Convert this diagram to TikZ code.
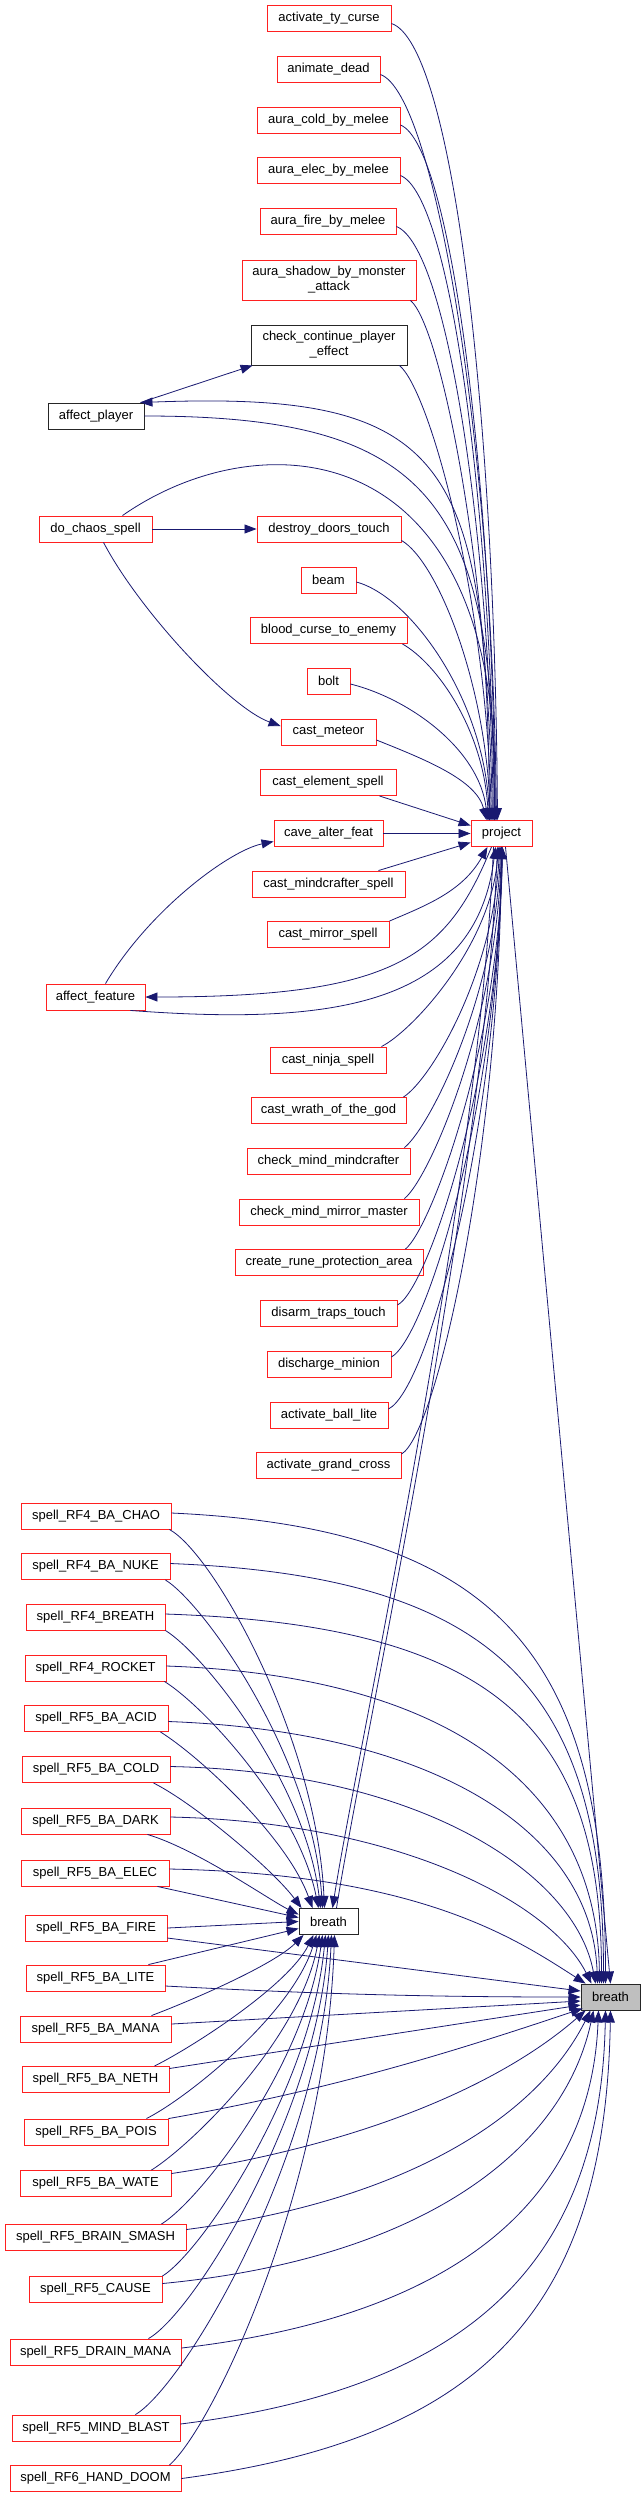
\documentclass[tikz,border=0pt]{standalone}
\usepackage{fontspec}
\setmainfont{Liberation Sans}
\usetikzlibrary{arrows.meta,calc}
\definecolor{edgec}{HTML}{191970}
\definecolor{boxred}{HTML}{FF2020}
\definecolor{hlgrey}{HTML}{BFBFBF}
\tikzset{
  fn/.style={draw=boxred, line width=0.9pt, fill=white, minimum height=26pt, inner sep=0pt,
             font=\fontsize{13}{15}\selectfont, align=center},
  fnb/.style={fn, draw=black!85},
  edg/.style={draw=edgec, line width=0.8pt, -{Triangle[length=12pt,width=9pt]}},
}
\newcommand\nd[6]{\node[#6, minimum width=#4pt] (#1) at (#2,#3) {#5};}
\begin{document}
\begin{tikzpicture}[x=1pt,y=-1pt]
\useasboundingbox (0,0) rectangle (641,2497);
% ---- nodes
\nd{aty}{329}{18.5}{124}{activate\_ty\_curse}{fn}
\nd{ad}{328.5}{69.5}{103}{animate\_dead}{fn}
\nd{acm}{328.5}{120}{143}{aura\_cold\_by\_melee}{fn}
\nd{aem}{328.5}{170.5}{143}{aura\_elec\_by\_melee}{fn}
\nd{afm}{328}{221.5}{136}{aura\_fire\_by\_melee}{fn}
\nd{asm}{329}{280}{174}{aura\_shadow\_by\_monster\\\_attack}{fn,minimum height=40pt}
\nd{ccpe}{329}{345}{156}{check\_continue\_player\\\_effect}{fnb,minimum height=40pt}
\nd{ap}{96}{416}{96}{affect\_player}{fnb}
\nd{dcs}{95.5}{529}{113}{do\_chaos\_spell}{fn}
\nd{ddt}{329}{529}{144}{destroy\_doors\_touch}{fn}
\nd{beam}{328.5}{580}{55}{beam}{fn}
\nd{bcte}{328.5}{630.5}{157}{blood\_curse\_to\_enemy}{fn}
\nd{bolt}{328.5}{681}{43}{bolt}{fn}
\nd{cm}{328.5}{732}{95}{cast\_meteor}{fn}
\nd{ces}{328}{782.5}{136}{cast\_element\_spell}{fn}
\nd{proj}{501.5}{833.5}{61}{project}{fn}
\nd{caf}{328.5}{833.5}{109}{cave\_alter\_feat}{fn}
\nd{cmcs}{328.5}{884}{153}{cast\_mindcrafter\_spell}{fn}
\nd{cmis}{328}{934.5}{122}{cast\_mirror\_spell}{fn}
\nd{af}{95.5}{997}{99}{affect\_feature}{fn}
\nd{cns}{328}{1060}{116}{cast\_ninja\_spell}{fn}
\nd{cwg}{328.5}{1110.5}{155}{cast\_wrath\_of\_the\_god}{fn}
\nd{cmm}{328.5}{1161}{163}{check\_mind\_mindcrafter}{fn}
\nd{cmmm}{329}{1212}{180}{check\_mind\_mirror\_master}{fn}
\nd{crpa}{329}{1262.5}{188}{create\_rune\_protection\_area}{fn}
\nd{dtt}{328.5}{1313}{137}{disarm\_traps\_touch}{fn}
\nd{dm}{329}{1364}{124}{discharge\_minion}{fn}
\nd{abl}{329}{1415}{118}{activate\_ball\_lite}{fn}
\nd{agc}{328.5}{1465.5}{145}{activate\_grand\_cross}{fn}
\nd{chao}{96}{1516}{150}{spell\_RF4\_BA\_CHAO}{fn}
\nd{nuke}{95.5}{1566.5}{149}{spell\_RF4\_BA\_NUKE}{fn}
\nd{rfb}{95.5}{1617}{139}{spell\_RF4\_BREATH}{fn}
\nd{rock}{95.5}{1668}{141}{spell\_RF4\_ROCKET}{fn}
\nd{acid}{96}{1718.5}{144}{spell\_RF5\_BA\_ACID}{fn}
\nd{cold}{96}{1769.5}{148}{spell\_RF5\_BA\_COLD}{fn}
\nd{dark}{95.5}{1821}{149}{spell\_RF5\_BA\_DARK}{fn}
\nd{elec}{95}{1873}{148}{spell\_RF5\_BA\_ELEC}{fn}
\nd{fire}{96}{1928}{142}{spell\_RF5\_BA\_FIRE}{fn}
\nd{lite}{95.5}{1978}{139}{spell\_RF5\_BA\_LITE}{fn}
\nd{mana}{95.5}{2029}{151}{spell\_RF5\_BA\_MANA}{fn}
\nd{neth}{95.5}{2079.5}{147}{spell\_RF5\_BA\_NETH}{fn}
\nd{pois}{96}{2132}{144}{spell\_RF5\_BA\_POIS}{fn}
\nd{wate}{95.5}{2183.5}{151}{spell\_RF5\_BA\_WATE}{fn}
\nd{brain}{95.5}{2237.5}{181}{spell\_RF5\_BRAIN\_SMASH}{fn}
\nd{cause}{95.5}{2289.5}{133}{spell\_RF5\_CAUSE}{fn}
\nd{drain}{95.5}{2352}{171}{spell\_RF5\_DRAIN\_MANA}{fn}
\nd{mind}{96}{2428}{168}{spell\_RF5\_MIND\_BLAST}{fn}
\nd{doom}{95.5}{2478.5}{171}{spell\_RF6\_HAND\_DOOM}{fn}
\nd{bm}{328.5}{1921.5}{59}{breath}{fnb}
\nd{br}{610.5}{1997}{59}{breath}{fnb,fill=hlgrey}
% ---- upper column -> project
\draw[edg] ($(aty.east)+(0,5)$) .. controls +(60,20) and +(-3,-420) .. ($(proj.north)+(-4,0)$);
\draw[edg] ($(ad.east)+(0,5)$) .. controls +(55,20) and +(-4,-373) .. ($(proj.north)+(-5,0)$);
\draw[edg] ($(acm.east)+(0,5)$) .. controls +(50,20) and +(-4,-348) .. ($(proj.north)+(-6,0)$);
\draw[edg] ($(aem.east)+(0,5)$) .. controls +(50,20) and +(-5,-322) .. ($(proj.north)+(-7,0)$);
\draw[edg] ($(afm.east)+(0,5)$) .. controls +(50,20) and +(-5,-297) .. ($(proj.north)+(-8,0)$);
\draw[edg] ($(asm.south east)+(-6,0)$) .. controls +(30,25) and +(-5,-260) .. ($(proj.north)+(-9,0)$);
\draw[edg] ($(ccpe.south east)+(-8,0)$) .. controls +(30,25) and +(-6,-228) .. ($(proj.north)+(-10,0)$);
\draw[edg] ($(ap.north east)+(-4,0)$) -- ($(ccpe.south west)+(2,0)$);
\draw[edg] ($(proj.north)+(-12,0)$) .. controls +(-2,-360) and +(310,-12) .. ($(ap.north east)+(-4,0)$);
\draw[edg] (ap.east) .. controls +(280,0) and +(0,-324) .. ($(proj.north)+(-7,0)$);
\draw[edg] ($(dcs.north)+(27,0)$) .. controls +(137,-96) and +(10,-390) .. ($(proj.north)+(-7,0)$);
\draw[edg] (dcs.east) -- (ddt.west);
\draw[edg] ($(dcs.south)+(8,0)$) .. controls +(37,70) and +(-50,-18) .. ($(cm.west)+(0,-6)$);
\draw[edg] ($(ddt.south east)+(0,-2)$) .. controls +(35,20) and +(-5,-140) .. ($(proj.north)+(-11,0)$);
\draw[edg] ($(beam.east)+(0,2)$) .. controls +(55,15) and +(-5,-120) .. ($(proj.north)+(-12,0)$);
\draw[edg] ($(bcte.south east)+(-5,0)$) .. controls +(35,20) and +(-5,-90) .. ($(proj.north)+(-13,0)$);
\draw[edg] ($(bolt.east)+(0,3)$) .. controls +(60,15) and +(-8,-70) .. ($(proj.north)+(-14,0)$);
\draw[edg] ($(cm.east)+(0,8)$) .. controls +(50,20) and +(-10,-40) .. ($(proj.north)+(-15,0)$);
\draw[edg] ($(ces.south east)+(-17,0)$) -- ($(proj.west)+(0,-8)$);
\draw[edg] (caf.east) -- (proj.west);
\draw[edg] ($(cmcs.north east)+(-27,0)$) -- ($(proj.west)+(0,9)$);
\draw[edg] (cmis.north east) .. controls +(35,-15) and +(-25,45) .. ($(proj.south)+(-14,0)$);
\draw[edg] ($(proj.south)+(-10,0)$) .. controls +(-45,110) and +(250,0) .. (af.east);
\draw[edg] ($(af.south east)+(-15,0)$) .. controls +(200,15) and +(-20,160) .. ($(proj.south)+(-6,0)$);
\draw[edg] ($(af.north)+(10,0)$) .. controls +(44,-74) and +(-44,9) .. ($(caf.west)+(0,8)$);
% ---- lower column -> project
\draw[edg] ($(cns.north east)+(-5,0)$) .. controls +(30,-15) and +(-8,100) .. ($(proj.south)+(-3,0)$);
\draw[edg] ($(cwg.north east)+(-3,0)$) .. controls +(28,-18) and +(-6,126) .. ($(proj.south)+(-2,0)$);
\draw[edg] ($(cmm.north east)+(-6,0)$) .. controls +(25,-20) and +(-5,150) .. ($(proj.south)+(-1,0)$);
\draw[edg] ($(cmmm.north east)+(-15,0)$) .. controls +(25,-20) and +(-5,176) .. (proj.south);
\draw[edg] ($(crpa.north east)+(-18,0)$) .. controls +(25,-20) and +(-4,200) .. ($(proj.south)+(1,0)$);
\draw[edg] ($(dtt.east)+(0,-8)$) .. controls +(30,-15) and +(-4,230) .. ($(proj.south)+(1,0)$);
\draw[edg] ($(dm.east)+(0,-7)$) .. controls +(35,-20) and +(-3,255) .. (proj.south);
\draw[edg] ($(abl.east)+(0,-6)$) .. controls +(40,-20) and +(-3,280) .. (proj.south);
\draw[edg] ($(agc.north east)+(0,2)$) .. controls +(35,-20) and +(-2,305) .. (proj.south);
\draw[edg] ($(bm.north)+(8,0)$) .. controls +(25,-160) and +(-15,354) .. ($(proj.south)+(-4,0)$);
\draw[edg] ($(proj.south)+(-8,0)$) .. controls +(-15,354) and +(25,-160) .. ($(bm.north)+(4,0)$);
\draw[edg] ($(proj.south)+(4,0)$) -- (br.north);
% ---- spells -> breath (middle)
\draw[edg] ($(chao.south east)+(-2,0)$) .. controls +(45,25) and +(-8,-170) .. ($(bm.north)+(-4,0)$);
\draw[edg] ($(nuke.south east)+(-5,0)$) .. controls +(40,25) and +(-10,-150) .. ($(bm.north)+(-6,0)$);
\draw[edg] (rfb.south east) .. controls +(40,25) and +(-15,-125) .. ($(bm.north)+(-8,0)$);
\draw[edg] ($(rock.south east)+(-2,0)$) .. controls +(40,25) and +(-20,-100) .. ($(bm.north)+(-10,0)$);
\draw[edg] ($(acid.south east)+(-8,0)$) .. controls +(40,25) and +(-25,-70) .. ($(bm.north)+(-16,0)$);
\draw[edg] ($(cold.south east)+(-17,0)$) .. controls +(40,20) and +(-30,-40) .. ($(bm.north west)+(3,0)$);
\draw[edg] ($(dark.south east)+(-23,0)$) .. controls +(50,15) and +(-30,-15) .. ($(bm.west)+(0,-7)$);
\draw[edg] ($(elec.south east)+(-12,0)$) -- ($(bm.west)+(0,-4)$);
\draw[edg] (fire.east) -- (bm.west);
\draw[edg] ($(lite.north east)+(-17,0)$) -- ($(bm.west)+(0,7)$);
\draw[edg] ($(mana.north east)+(-20,0)$) .. controls +(40,-15) and +(-30,30) .. ($(bm.south west)+(5,0)$);
\draw[edg] ($(neth.north east)+(-15,0)$) .. controls +(40,-20) and +(-25,50) .. ($(bm.south)+(-15,0)$);
\draw[edg] ($(pois.north east)+(-22,0)$) .. controls +(40,-20) and +(-25,80) .. ($(bm.south)+(-12,0)$);
\draw[edg] ($(wate.north east)+(-20,0)$) .. controls +(40,-25) and +(-20,105) .. ($(bm.south)+(-9,0)$);
\draw[edg] ($(brain.north east)+(-25,0)$) .. controls +(40,-25) and +(-18,130) .. ($(bm.south)+(-6,0)$);
\draw[edg] (cause.north east) .. controls +(40,-25) and +(-15,155) .. ($(bm.south)+(-3,0)$);
\draw[edg] ($(drain.north east)+(-33,0)$) .. controls +(45,-25) and +(-12,180) .. (bm.south);
\draw[edg] ($(mind.north east)+(-45,0)$) .. controls +(50,-30) and +(-10,220) .. ($(bm.south)+(3,0)$);
\draw[edg] ($(doom.north east)+(-12,0)$) .. controls +(45,-40) and +(-8,250) .. ($(bm.south)+(6,0)$);
% ---- spells -> breath (right)
\draw[edg] ($(chao.east)+(0,-3)$) .. controls +(325,15) and +(0,-330) .. ($(br.north)+(-5,0)$);
\draw[edg] ($(nuke.east)+(0,-3)$) .. controls +(325,13) and +(0,-295) .. ($(br.north)+(-7,0)$);
\draw[edg] ($(rfb.east)+(0,-3)$) .. controls +(326,11) and +(0,-259) .. ($(br.north)+(-9,0)$);
\draw[edg] ($(rock.east)+(0,-2)$) .. controls +(290,10) and +(-2,-190) .. ($(br.north)+(-11,0)$);
\draw[edg] ($(acid.east)+(0,3)$) .. controls +(270,10) and +(-5,-150) .. ($(br.north)+(-13,0)$);
\draw[edg] ($(cold.east)+(0,-3)$) .. controls +(250,5) and +(-20,-110) .. ($(br.north)+(-15,0)$);
\draw[edg] ($(dark.east)+(0,-4)$) .. controls +(230,5) and +(-40,-80) .. ($(br.north)+(-19,0)$);
\draw[edg] ($(elec.east)+(0,-4)$) .. controls +(250,5) and +(-70,-45) .. ($(br.north west)+(5,0)$);
\draw[edg] ($(fire.east)+(0,10)$) -- ($(br.west)+(0,-6)$);
\draw[edg] ($(lite.east)+(0,8)$) .. controls +(150,8) and +(-150,0) .. (br.west);
\draw[edg] ($(mana.east)+(0,-5)$) -- ($(br.west)+(0,4)$);
\draw[edg] ($(neth.east)+(0,-11)$) -- ($(br.west)+(0,8)$);
\draw[edg] (pois.north east) .. controls +(170,-30) and +(-120,40) .. ($(br.south west)+(2,-2)$);
\draw[edg] ($(wate.east)+(0,-10)$) .. controls +(200,-30) and +(-80,70) .. ($(br.south west)+(5,0)$);
\draw[edg] ($(brain.east)+(0,-8)$) .. controls +(230,-30) and +(-50,100) .. ($(br.south)+(-20,0)$);
\draw[edg] ($(cause.east)+(0,-6)$) .. controls +(260,-25) and +(-30,140) .. ($(br.south)+(-17,0)$);
\draw[edg] ($(drain.east)+(0,-4)$) .. controls +(260,-30) and +(-8,200) .. ($(br.south)+(-12,0)$);
\draw[edg] ($(mind.east)+(0,-4)$) .. controls +(280,-35) and +(-5,260) .. ($(br.south)+(-5,0)$);
\draw[edg] (doom.east) .. controls +(300,-40) and +(-5,300) .. (br.south);
\end{tikzpicture}
\end{document}
